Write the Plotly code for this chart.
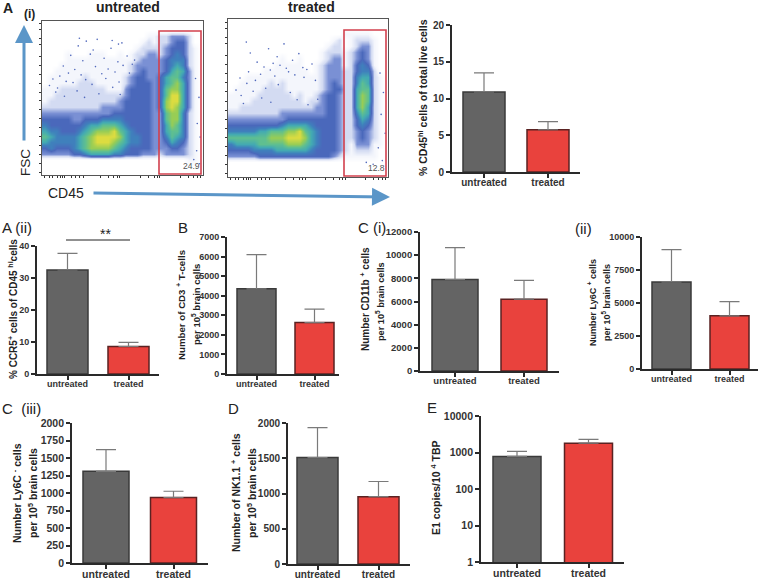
import plotly.graph_objects as go

# ---------- data ----------
categories = ["untreated", "treated"]

pct_cd45_mean = [10.9, 5.75]
pct_cd45_err = [2.6, 1.1]
pct_cd45_ticks = [0, 5, 10, 15, 20]

pct_ccr5_mean = [32.5, 8.6]
pct_ccr5_err = [5.2, 1.3]
pct_ccr5_ticks = [0, 10, 20, 30, 40]

cd3_mean = [4350, 2630]
cd3_err = [1750, 680]
cd3_ticks = [0, 1000, 2000, 3000, 4000, 5000, 6000, 7000]

cd11b_mean = [7900, 6200]
cd11b_err = [2750, 1630]
cd11b_ticks = [0, 2000, 4000, 6000, 8000, 10000, 12000]

ly6c_pos_mean = [6600, 4030]
ly6c_pos_err = [2450, 1070]
ly6c_pos_ticks = [0, 2500, 5000, 7500, 10000]

ly6c_neg_mean = [1310, 935]
ly6c_neg_err = [310, 90]
ly6c_neg_ticks = [0, 250, 500, 750, 1000, 1250, 1500, 1750, 2000]

nk_mean = [1510, 955]
nk_err = [425, 215]
nk_ticks = [0, 500, 1000, 1500, 2000]

e1_mean = [780, 1800]
e1_err = [300, 500]
e1_ticks = [1, 10, 100, 1000, 10000]

# flow-cytometry density levels estimated by eye (0 = empty, 9 = densest)
density_untreated = [
    "0000000000000000000000000000",
    "0000000000000000000000000000",
    "0000000000000000001122333200",
    "0000000000000000012122344200",
    "0000000000000000122223444210",
    "0000100011100101223323454210",
    "0000111111111111233334555210",
    "0001111111111112333334565210",
    "0011111111111112343334676310",
    "0111111211111123443346775310",
    "0111112221111123444346786310",
    "1112222222211134444347886310",
    "1122222222222234444347996310",
    "1222222222222344444348996310",
    "2222222222333344444348986310",
    "3333333333334444444337885210",
    "4444433444555544444337885210",
    "5444444566777654444336875210",
    "6554445678889765444336775210",
    "7655556789999865544335765210",
    "6555556789998765544334654210",
    "4544456788887654444333443210",
    "3333344566665544433323333210",
    "0000000000000000000000000110",
    "0000000000000000000000000000",
    "0000000000000000000000000000",
]
density_treated = [
    "0000000000000000000000000000",
    "0000000000000000000000000000",
    "0000000000000000000011111000",
    "0000000000000000001201222100",
    "0000000000000000012201233100",
    "0000000000000000122212343100",
    "0000000001001000123312343100",
    "0000000011111001233312454100",
    "0000001111111101233322455200",
    "0001111111111111233322566210",
    "0011111212111111234322576210",
    "0111112222111111234422677210",
    "1111122222212112344322687210",
    "1111222222222122344322687210",
    "1122222222222223344322686210",
    "2222222223333333344322576210",
    "3333333333444444444322465210",
    "4444444445666654444322454210",
    "5555566777889765444322343210",
    "7777777888999865444322343210",
    "5666677777888765444321333110",
    "4444555566666654444321222100",
    "3333344444444444443211111100",
    "0000000000000000000000000000",
    "0000000000000000000000000000",
    "0000000000000000000000000000",
]
# sparse single events placed by eye (column, row of the density grid)
dots_untreated_col = [4.5, 5.8, 7.2, 8.4, 9.1, 10.3, 11.5, 12.7, 13.4, 6.6, 7.9, 3.2, 4.1, 2.6, 5.2, 6.3, 8.8, 9.9, 11.0, 12.2,
                      13.6, 14.3, 3.7, 1.4, 2.2, 4.9, 7.1, 8.2, 10.6, 12.9, 14.7, 15.2, 0.8, 1.9, 3.4, 5.6, 6.9, 9.4, 11.8, 13.1,
                      11.7, 12.8, 6.0, 15.6, 26.2, 26.8, 26.5, 27.0, 26.4, 25.9, 26.9]
dots_untreated_row = [5.3, 3.7, 2.9, 4.4, 2.6, 5.8, 4.1, 6.4, 3.2, 6.2, 5.1, 7.1, 8.3, 8.8, 7.7, 8.6, 7.2, 8.4, 7.6, 8.1,
                      7.0, 5.4, 9.7, 9.3, 10.8, 9.9, 9.4, 10.2, 9.2, 9.8, 8.3, 6.8, 10.4, 11.5, 12.2, 11.3, 12.4, 11.8, 10.7, 11.9,
                      2.8, 3.4, 2.4, 6.1, 9.2, 12.4, 16.8, 19.1, 21.4, 22.9, 23.6]
dots_treated_col = [2.7, 3.4, 6.6, 8.1, 9.3, 10.8, 4.6, 5.8, 7.4, 11.9, 12.6, 3.1, 5.2, 6.9, 8.6, 10.1, 13.3, 14.2, 1.6, 2.8,
                    4.3, 7.7, 9.7, 11.2, 12.8, 0.9, 1.8, 3.9, 6.1, 8.3, 10.4, 14.8, 15.2, 2.2, 5.4, 7.0, 11.6, 13.5, 26.1, 26.7,
                    26.3, 27.0, 25.8, 26.5, 24.9, 23.7]
dots_treated_row = [3.3, 5.1, 4.4, 5.7, 3.6, 6.3, 6.6, 7.4, 6.8, 5.2, 7.5, 8.2, 8.6, 7.9, 7.1, 8.2, 7.8, 6.9, 9.2, 10.1,
                    9.6, 8.9, 7.6, 8.7, 9.1, 11.2, 12.1, 11.4, 10.9, 10.3, 11.6, 9.6, 12.7, 13.4, 12.5, 13.2, 12.8, 13.6, 8.4, 11.6,
                    15.2, 18.3, 20.7, 22.8, 23.4, 23.1]
gate_percent = ["24.9", "12.8"]

# ---------- layout (pixels of the 760x578 page) ----------
W, H = 760, 578
FONT = "Liberation Sans"
GREY, RED = "#646464", "#e9423d"
EDGE_G, EDGE_R = "#3a3a3a", "#5a2222"
DARK = "#2a2a2a"


def px(x):
    return x / W


def py(y):
    return 1 - y / H


panels = [
    dict(mean=pct_cd45_mean, err=pct_cd45_err, ticks=pct_cd45_ticks, top=20, L=452, R=580, T=25, B=172, b=(463, 505, 527, 569), fs=10),
    dict(mean=pct_ccr5_mean, err=pct_ccr5_err, ticks=pct_ccr5_ticks, top=40, L=37, R=159, T=246, B=374, b=(47, 88, 108, 149), fs=9),
    dict(mean=cd3_mean, err=cd3_err, ticks=cd3_ticks, top=7000, L=227, R=339, T=237, B=374, b=(237, 276, 295, 334), fs=9),
    dict(mean=cd11b_mean, err=cd11b_err, ticks=cd11b_ticks, top=12000, L=420, R=559, T=232, B=371, b=(432, 478, 501, 547), fs=9.5),
    dict(mean=ly6c_pos_mean, err=ly6c_pos_err, ticks=ly6c_pos_ticks, top=10000, L=642, R=758, T=237, B=369, b=(652, 691, 710, 749), fs=9),
    dict(mean=ly6c_neg_mean, err=ly6c_neg_err, ticks=ly6c_neg_ticks, top=2000, L=72, R=208, T=423, B=563, b=(83, 129, 151, 196), fs=10.5),
    dict(mean=nk_mean, err=nk_err, ticks=nk_ticks, top=2000, L=288, R=410, T=423, B=564, b=(297, 338, 358, 399), fs=10),
    dict(mean=e1_mean, err=e1_err, ticks=e1_ticks, top=10000, L=481, R=624, T=416, B=562, b=(493, 541, 565, 612), fs=10.5, log=True),
]

fig = go.Figure()
layout = {}
n = 0
for p in panels:
    n += 1
    xa, ya = f"x{n}", f"y{n}"
    b1, b2, b3, b4 = p["b"]
    c1, c2 = (b1 + b2) / 2, (b3 + b4) / 2
    unit = c2 - c1
    width = (b2 - b1) / unit
    tfont = dict(family=FONT + ", Arial", size=p["fs"], color="#333333", weight="bold")
    fig.add_trace(go.Bar(
        x=[0, 1], y=p["mean"], width=width, xaxis=xa, yaxis=ya, showlegend=False,
        marker=dict(color=[GREY, RED], line=dict(color=[EDGE_G, EDGE_R], width=1.5)),
        error_y=dict(type="data", symmetric=False, array=p["err"], arrayminus=[0, 0],
                     color="#7a7a7a", thickness=1.2, width=10),
    ))
    layout[f"xaxis{n}"] = dict(
        domain=[px(p["L"]), px(p["R"])], anchor=ya, range=[(p["L"] - c1) / unit, (p["R"] - c1) / unit],
        tickmode="array", tickvals=[0, 1], ticktext=categories, ticks="outside", ticklen=4, tickwidth=1.8,
        tickcolor=DARK, showline=True, linecolor=DARK, linewidth=1.8, showgrid=False, zeroline=False,
        tickfont=tfont, automargin=False, ticklabelstandoff=-4,
    )
    is_log = p.get("log", False)
    layout[f"yaxis{n}"] = dict(
        domain=[py(p["B"]), py(p["T"])], anchor=xa,
        type="log" if is_log else "linear",
        range=[0, 4] if is_log else [0, p["top"]],
        tickmode="array", tickvals=p["ticks"], ticktext=[str(t) for t in p["ticks"]],
        ticks="outside", ticklen=4, tickwidth=1.8, tickcolor=DARK, showline=True, linecolor=DARK,
        linewidth=1.8, showgrid=False, zeroline=False,
        tickfont=tfont, automargin=False,
    )

# flow panels
scale = [
    [0.0, "#ffffff"], [0.111, "#f4f6fc"], [0.222, "#d3dbf2"], [0.333, "#7a90d4"], [0.444, "#4a68bb"],
    [0.556, "#3f80bc"], [0.667, "#43aab2"], [0.778, "#5fbf90"], [0.889, "#98cd55"], [1.0, "#dcdc40"],
]
flows = [
    dict(grid=density_untreated, cols=dots_untreated_col, rows=dots_untreated_row, L=42, R=203, T=21, B=175),
    dict(grid=density_treated, cols=dots_treated_col, rows=dots_treated_row, L=228, R=388, T=19, B=177),
]
xtick_cols = [0, 0.8, 1.4, 2.2, 2.8, 3.1, 3.4, 4.6, 5.4, 6, 6.8, 9.6, 11, 12, 12.6, 13, 16.6, 18, 19, 19.6, 20, 23.6, 25, 25.8, 26.6, 27]
ytick_rows = [1, 5.5, 10, 14.5, 19, 23.5]
yminor_rows = [0, 2.5, 3.5, 7, 8.5, 11.5, 13, 16, 17.5, 20.5, 22, 25]
for f in flows:
    n += 1
    xa, ya = f"x{n}", f"y{n}"
    z = [[int(c) for c in row] for row in f["grid"]]
    fig.add_trace(go.Heatmap(z=z, xaxis=xa, yaxis=ya, zmin=0, zmax=9, colorscale=scale,
                             showscale=False, zsmooth="best", hoverinfo="skip"))
    fig.add_trace(go.Scatter(x=f["cols"], y=f["rows"], xaxis=xa, yaxis=ya, mode="markers", showlegend=False,
                             marker=dict(size=1.6, color="#5068bc", line=dict(width=0)), hoverinfo="skip"))
    layout[f"xaxis{n}"] = dict(
        domain=[px(f["L"]), px(f["R"])], anchor=ya, range=[-0.5, 27.5], showgrid=False, zeroline=False,
        showline=True, mirror=True, linecolor="#555555", linewidth=1, tickmode="array", tickvals=xtick_cols,
        ticktext=[""] * len(xtick_cols), ticks="outside", ticklen=2, tickcolor="#333333", tickwidth=1, automargin=False,
    )
    layout[f"yaxis{n}"] = dict(
        domain=[py(f["B"]), py(f["T"])], anchor=xa, range=[25.5, -0.5], showgrid=False, zeroline=False,
        showline=True, mirror=True, linecolor="#555555", linewidth=1, tickmode="array",
        tickvals=ytick_rows + yminor_rows, ticktext=[""] * (len(ytick_rows) + len(yminor_rows)),
        ticks="outside", ticklen=2, tickcolor="#333333", tickwidth=1, automargin=False,
    )

shapes = [
    dict(type="rect", xref="paper", yref="paper", x0=px(159), x1=px(201), y0=py(174), y1=py(31),
         line=dict(color="#d2404e", width=1.6)),
    dict(type="rect", xref="paper", yref="paper", x0=px(344), x1=px(386), y0=py(176), y1=py(30),
         line=dict(color="#d2404e", width=1.6)),
    dict(type="line", xref="paper", yref="paper", x0=px(66), x1=px(130), y0=py(240), y1=py(240),
         line=dict(color="#222222", width=1)),
]


def label(x, y, text, size=11, bold=False, angle=0, color="#222222", anchor="center"):
    t = f"<b>{text}</b>" if bold else text
    return dict(x=px(x), y=py(y), xref="paper", yref="paper", text=t, showarrow=False, textangle=angle,
                xanchor=anchor, yanchor="middle", font=dict(family=FONT, size=size, color=color))


def arrow(x0, y0, x1, y1):
    return dict(x=px(x1), y=py(y1), xref="paper", yref="paper", ax=x0 - x1, ay=y0 - y1, axref="pixel", ayref="pixel",
                text="", showarrow=True, arrowhead=2, arrowsize=1.2, arrowwidth=3, arrowcolor="#5b96c8",
                standoff=0, startstandoff=0)


annotations = [
    arrow(24, 142, 24, 25),
    arrow(92, 193, 390, 197),
    label(128, 7, "untreated", 14, True),
    label(311, 7, "treated", 14, True),
    label(1, 8, "A", 14, True, anchor="left"),
    label(22, 14, "(i)", 12, True, anchor="left"),
    label(25, 163, "FSC", 13.5, angle=-90),
    label(46, 193, "CD45", 14, anchor="left"),
    label(191, 166, gate_percent[0], 8.5, color="#555555"),
    label(376, 168, gate_percent[1], 8.5, color="#555555"),
    label(0, 227, "A (ii)", 15, anchor="left"),
    label(176, 227, "B", 15, anchor="left"),
    label(356, 227, "C (i)", 15, anchor="left"),
    label(573, 228, "(ii)", 15, anchor="left"),
    label(0, 408, "C  (iii)", 15, anchor="left"),
    label(226, 408, "D", 15, anchor="left"),
    label(425, 407, "E", 15, anchor="left"),
    label(105, 234, "**", 14),
    label(423, 98, "% CD45<sup>hi</sup> cells of total live cells", 10.5, True, -90),
    label(13, 309, "% CCR5<sup>+</sup> cells of CD45 <sup>hi</sup>cells", 10, True, -90),
    label(181, 305, "Number of CD3 <sup>+</sup> T-cells", 9.7, True, -90),
    label(196, 305, "per 10<sup>5</sup> brain cells", 9.5, True, -90),
    label(365, 299, "Number CD11b <sup>+</sup> cells", 10, True, -90),
    label(380, 302, "per 10<sup>5</sup> brain cells", 9.2, True, -90),
    label(592, 303, "Number Ly6C <sup>+</sup> cells", 9, True, -90),
    label(606, 303, "per 10<sup>5</sup> brain cells", 9, True, -90),
    label(16, 493, "Number Ly6C <sup>-</sup> cells", 10.5, True, -90),
    label(32, 493, "per 10<sup>5</sup> brain cells", 10.5, True, -90),
    label(235, 493, "Number of NK1.1 <sup>+</sup> cells", 10.5, True, -90),
    label(251, 493, "per 10<sup>5</sup> brain cells", 10.5, True, -90),
    label(436, 488, "E1 copies/10 <sup>4</sup> TBP", 10.5, True, -90),
]

fig.update_layout(width=W, height=H, margin=dict(l=0, r=0, t=0, b=0, autoexpand=False), paper_bgcolor="white", plot_bgcolor="rgba(0,0,0,0)",
                  shapes=shapes, annotations=annotations, showlegend=False, **layout)
fig.write_html("out.html", config=dict(displayModeBar=False), post_script="document.body.style.margin='0';window.dispatchEvent(new Event('resize'));")
